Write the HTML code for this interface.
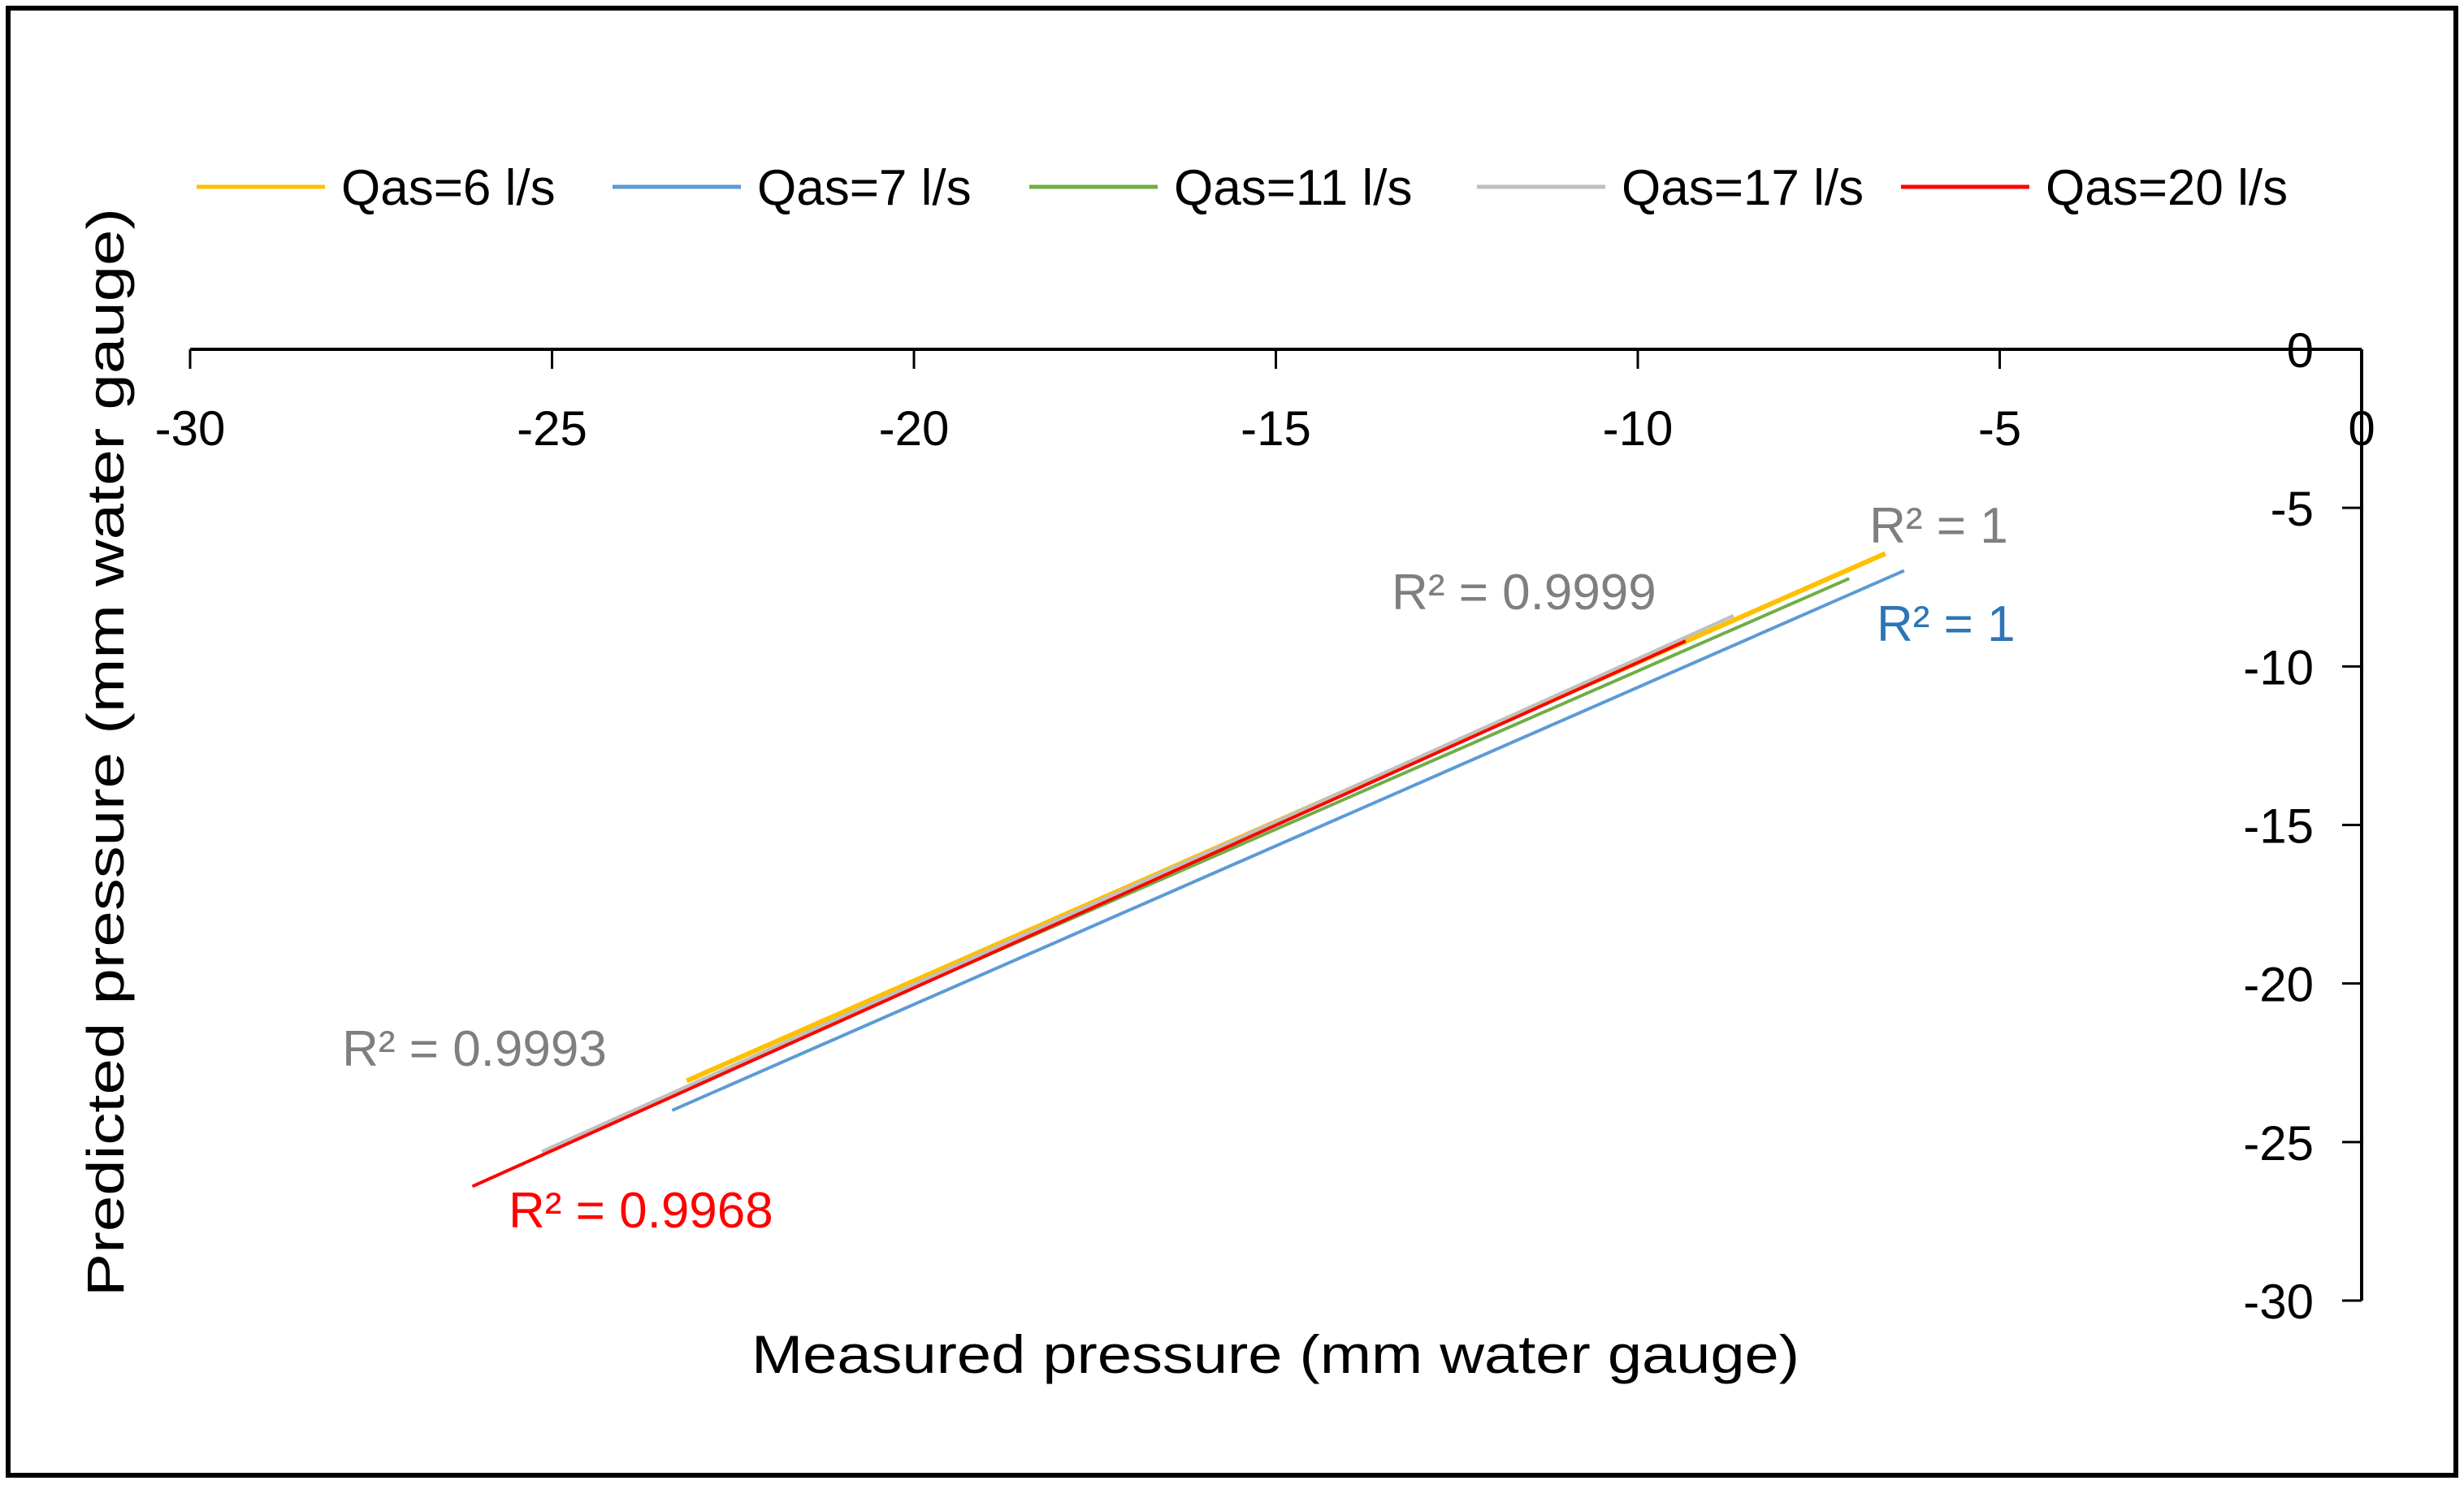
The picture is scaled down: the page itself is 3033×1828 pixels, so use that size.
<!DOCTYPE html>
<html><head><meta charset="utf-8"><style>
html,body{margin:0;padding:0;background:#fff}
svg{display:block}
text{font-family:"Liberation Sans",sans-serif}
</style></head><body>
<svg id="chart" width="3033" height="1828" viewBox="0 0 3033 1828" xmlns="http://www.w3.org/2000/svg">
<rect x="10" y="10" width="3013" height="1806" fill="#fff" stroke="#000" stroke-width="6"/>
<g id="legend"></g>
<g id="axes"></g>
<g id="series"></g>
<g id="labels"></g>
<text x="1570" y="1690" font-size="66" text-anchor="middle" fill="#000" textLength="1290" lengthAdjust="spacingAndGlyphs">Measured pressure (mm water gauge)</text>
<text transform="translate(152,926) rotate(-90)" font-size="64" text-anchor="middle" fill="#000" textLength="1340" lengthAdjust="spacingAndGlyphs">Predicted pressure (mm water gauge)</text>
</svg>
<script>
const seriesNames = ["Qas=6 l/s","Qas=7 l/s","Qas=11 l/s","Qas=17 l/s","Qas=20 l/s"];
const seriesColors = ["#ffc000","#5b9bd5","#70ad47","#bfbfbf","#ff0000"];
const seriesX0 = [-23.14,-23.34,-23.08,-25.14,-26.1];
const seriesY0 = [-23.07,-24.0,-23.2,-25.3,-26.4];
const seriesX1 = [-6.58,-6.32,-7.08,-8.68,-9.34];
const seriesY1 = [-6.44,-6.98,-7.23,-8.4,-9.2];
const xTicks = [-30,-25,-20,-15,-10,-5,0];
const yTicks = [0,-5,-10,-15,-20,-25,-30];
const r2Texts = ["R² = 1","R² = 1","R² = 0.9999","R² = 0.9993","R² = 0.9968"];
const r2X = [-6.8,-6.7,-13.4,-27.9,-25.6];
const r2Y = [-6.1,-9.2,-8.2,-22.6,-27.7];
const r2Colors = ["#7f7f7f","#2e75b6","#7f7f7f","#7f7f7f","#ff0000"];

const NS="http://www.w3.org/2000/svg";
const X=v=>234+(v+30)*(2907-234)/30;
const Y=v=>430+(-v)*(1601-430)/30;
function mk(tag,attrs,parent){const e=document.createElementNS(NS,tag);for(const k in attrs)e.setAttribute(k,attrs[k]);parent.appendChild(e);return e;}

const axes=document.getElementById('axes');
let l=mk('line',{x1:X(-30),y1:Y(0),x2:X(0),y2:Y(0),stroke:'#000','stroke-width':4},axes);


l=mk('line',{x1:X(0),y1:Y(0),x2:X(0),y2:Y(-30),stroke:'#000','stroke-width':4},axes);


xTicks.forEach(t=>{
  const tk=mk('line',{x1:X(t),y1:Y(0),x2:X(t),y2:Y(0)+24,stroke:'#000','stroke-width':3},axes);
  
  
  const tx=mk('text',{x:X(t),y:548,'font-size':60,'text-anchor':'middle',fill:'#000'},axes);
  tx.textContent=String(t);
  
  
});
yTicks.forEach(t=>{
  const tk=mk('line',{x1:X(0)-24,y1:Y(t),x2:X(0),y2:Y(t),stroke:'#000','stroke-width':3},axes);
  
  
  const tx=mk('text',{x:2848,y:Y(t)+22,'font-size':60,'text-anchor':'end',fill:'#000'},axes);
  tx.textContent=String(t);
  
  
});

const ser=document.getElementById('series');
seriesNames.forEach((n,i)=>{
  const ln=mk('line',{x1:X(seriesX0[i]),y1:Y(seriesY0[i]),x2:X(seriesX1[i]),y2:Y(seriesY1[i]),stroke:seriesColors[i],'stroke-width':i==0?6:4},ser);
  
  
});

const leg=document.getElementById('legend');
const legLineX=[242,754,1267,1818,2340];
seriesNames.forEach((n,i)=>{
  const g=mk('g',{},leg);
  
  
  mk('line',{x1:legLineX[i],y1:230,x2:legLineX[i]+158,y2:230,stroke:seriesColors[i],'stroke-width':5},g);
  const t=mk('text',{x:legLineX[i]+178,y:252,'font-size':62,fill:'#000'},g);
  t.textContent=n;
});

const lab=document.getElementById('labels');
r2Texts.forEach((s,i)=>{
  const t=mk('text',{x:X(r2X[i]),y:Y(r2Y[i]),'font-size':62,fill:r2Colors[i]},lab);
  t.textContent=s;
  
  
});
</script>
</body></html>
